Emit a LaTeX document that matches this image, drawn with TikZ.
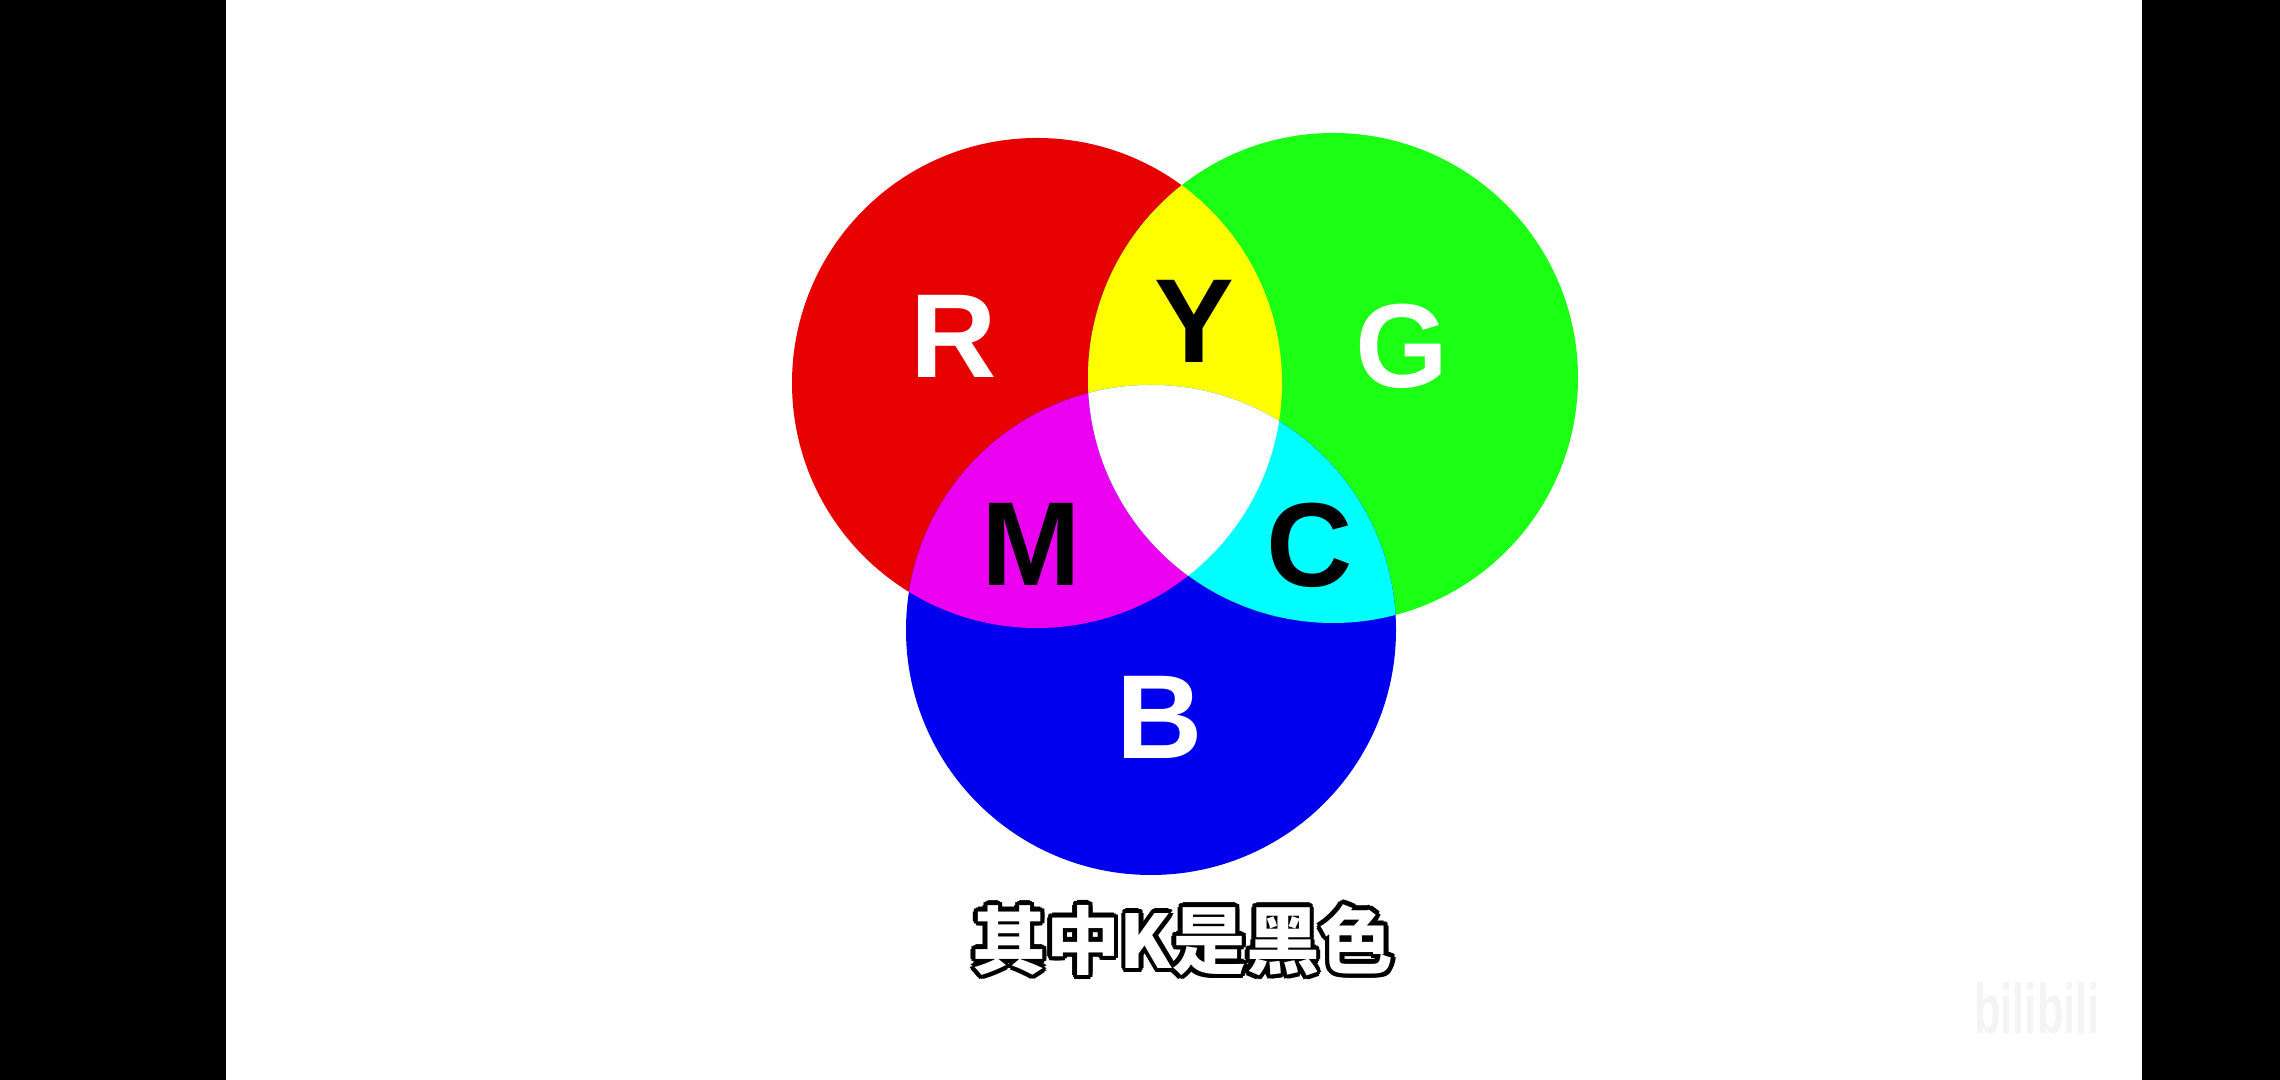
\documentclass[tikz,border=0pt]{standalone}
\usepackage{fontspec}
\setmainfont{Liberation Sans}
\newfontfamily\cjk{Noto Sans CJK SC}
\definecolor{rgbred}{RGB}{230,0,0}
\definecolor{rgbgreen}{RGB}{26,255,20}
\definecolor{rgbblue}{RGB}{0,0,238}
\definecolor{rgbyellow}{RGB}{255,255,0}
\definecolor{rgbmagenta}{RGB}{235,0,240}
\definecolor{rgbcyan}{RGB}{0,255,255}
\definecolor{logogray}{RGB}{244,243,246}

\begin{document}
\begin{tikzpicture}[
    letter/.style={font=\fontsize{34}{40}\selectfont\bfseries,inner sep=0pt},
    caption/.style={font=\cjk\bfseries\fontsize{21}{25}\selectfont,inner sep=0pt}]
        \useasboundingbox (0,0) rectangle (22.8,10.8);
        \fill[black] (0,0) rectangle (2.26,10.8);
        \fill[black] (21.42,0) rectangle (22.8,10.8);
        \def\rad{2.45}
        \coordinate (rc) at (10.37,6.97);
        \coordinate (gc) at (13.33,7.02);
        \coordinate (bc) at (11.51,4.50);
        % primaries
        \fill[rgbred] (rc) circle (\rad);
        \fill[rgbgreen] (gc) circle (\rad);
        \fill[rgbblue] (bc) circle (\rad);
        % overlaps
        \begin{scope}
            \clip (rc) circle (\rad);
            \fill[rgbyellow] (gc) circle (\rad);
        \end{scope}
        \begin{scope}
            \clip (rc) circle (\rad);
            \fill[rgbmagenta] (bc) circle (\rad);
        \end{scope}
        \begin{scope}
            \clip (gc) circle (\rad);
            \fill[rgbcyan] (bc) circle (\rad);
        \end{scope}
        \begin{scope}
            \clip (rc) circle (\rad);
            \clip (gc) circle (\rad);
            \fill[white] (bc) circle (\rad);
        \end{scope}
        \node[letter,white] (R) at (9.54,7.44) {R};
        \node[letter] (Y) at (11.94,7.59) {Y};
        \node[letter,white] (G) at (14.02,7.34) {G};
        \node[letter] (M) at (10.31,5.36) {M};
        \node[letter] (C) at (13.10,5.35) {C};
        \node[letter,white] (B) at (11.60,3.63) {B};
        % caption with black outline
        \foreach \a [count=\i] in {0,30,...,330}
            \node[caption,text=black,shift={(\a:0.045)}] (halo\i) at (11.83,1.40) {其中K是黑色};
        \node[caption,text=white] (sub) at (11.83,1.40) {其中K是黑色};
        \node[font=\fontsize{20}{24}\selectfont\bfseries,text=logogray,xscale=0.62,transform shape] (logo) at (20.37,0.72) {bilibili};
    \end{tikzpicture}
\end{document}
